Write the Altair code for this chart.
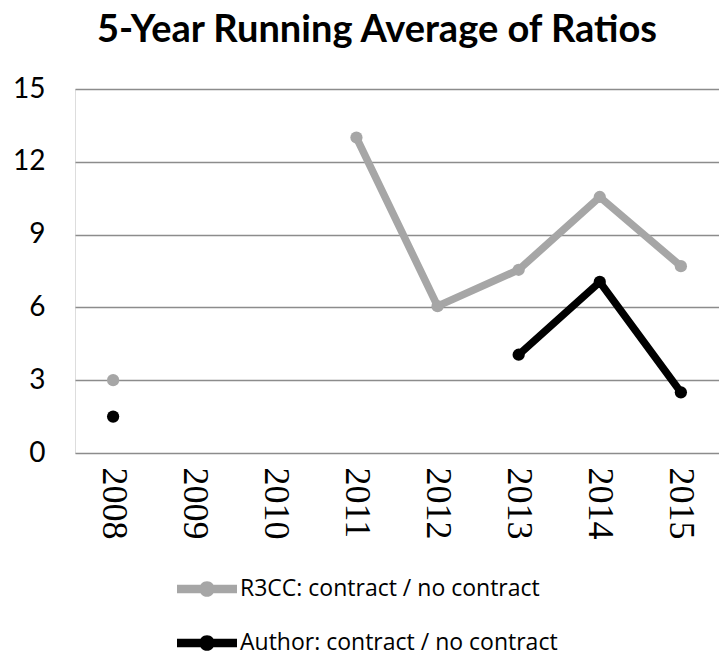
import altair as alt
import pandas as pd

years = ["2008", "2009", "2010", "2011", "2012", "2013", "2014", "2015"]
r3cc = [3.0, None, None, 13.0, 6.05, 7.55, 10.55, 7.7]
author = [1.5, None, None, None, None, 4.05, 7.05, 2.5]
series_names = ["R3CC: contract / no contract", "Author: contract / no contract"]
series_colors = ["#a6a6a6", "#000000"]
y_ticks = [0, 3, 6, 9, 12, 15]

rows = []
for name, vals in zip(series_names, [r3cc, author]):
    for yr, v in zip(years, vals):
        rows.append({"year": yr, "value": v, "series": name, "line_series": name})
df = pd.DataFrame(rows)

x_enc = alt.X("year:O", sort=years, scale=alt.Scale(type="point", padding=0.47),
              axis=alt.Axis(labelAngle=90, labelAlign="left", labelBaseline="middle",
                            labelFont="Liberation Serif", labelFontSize=36, labelColor="#000",
                            labelPadding=14, ticks=False, domain=False, grid=False, title=None))
y_enc = alt.Y("value:Q", scale=alt.Scale(domain=[0, 15], nice=False, zero=True),
              axis=alt.Axis(values=y_ticks, labelFont="Lato", labelFontSize=28, labelColor="#000",
                            labelPadding=30, ticks=False, domain=False, grid=True,
                            gridColor="#8c8c8c", gridWidth=1.5, title=None))

legend_path = ("M-1,-0.14 L1,-0.14 L1,0.14 L-1,0.14 Z "
               "M0.26,0 A0.26,0.26 0 1,1 -0.26,0 A0.26,0.26 0 1,1 0.26,0 Z")

lines = alt.Chart(df).mark_line(strokeWidth=7.5, strokeCap="round", strokeJoin="round").encode(
    x=x_enc, y=y_enc,
    stroke=alt.Stroke("line_series:N", scale=alt.Scale(domain=series_names, range=series_colors),
                      legend=None),
    detail="line_series:N",
)

points = alt.Chart(df).transform_filter("datum.value != null").mark_circle(size=150, opacity=1).encode(
    x=x_enc, y=y_enc,
    color=alt.Color("series:N", scale=alt.Scale(domain=series_names, range=series_colors),
                    sort=series_names,
                    legend=alt.Legend(title=None, orient="none", legendX=102, legendY=470,
                                      direction="vertical", symbolType=legend_path,
                                      symbolSize=3600, symbolStrokeWidth=0, symbolOpacity=1,
                                      labelFont="Open Sans", labelFontSize=23, labelColor="#000",
                                      labelOffset=3, rowPadding=12, labelLimit=500)),
)

chart = alt.layer(lines, points).resolve_scale(color="independent", stroke="independent").properties(
    width=644, height=364,
    title=alt.TitleParams("5-Year Running Average of Ratios", font="Lato", fontSize=38,
                          fontWeight="bold", color="#000", anchor="middle", dx=-20,
                          offset=25),
    padding={"left": 75, "top": 89, "right": 0, "bottom": 203},
    autosize=alt.AutoSizeParams(type="none"),
).configure_view(stroke=None).configure(background="white")

chart.save("out.html", embed_options={"renderer": "svg", "actions": False})
